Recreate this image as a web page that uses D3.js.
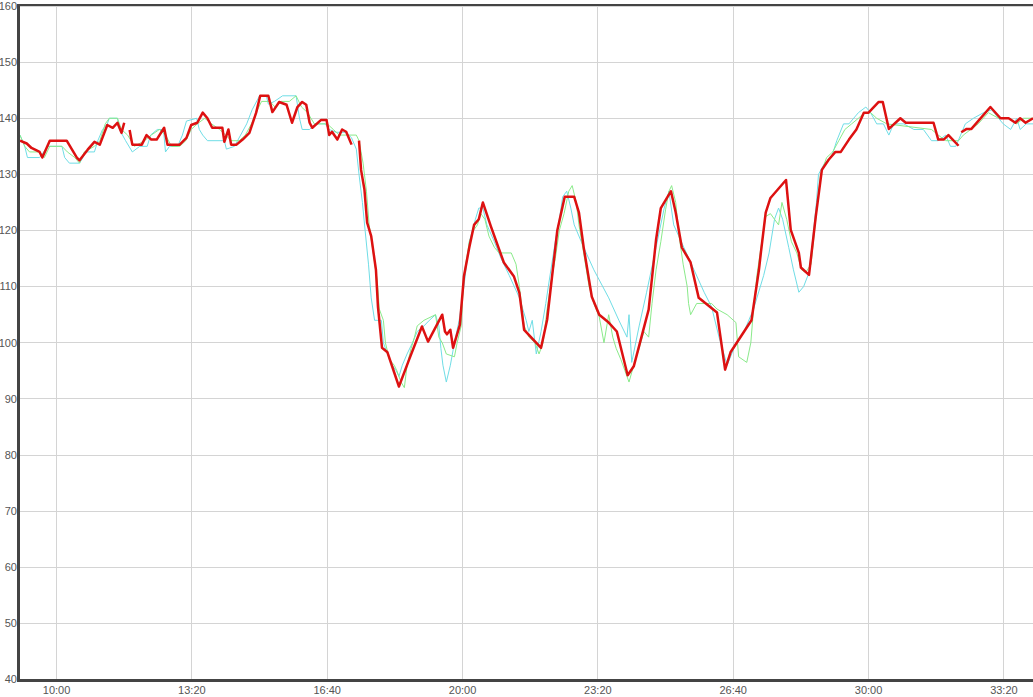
<!DOCTYPE html>
<html><head><meta charset="utf-8">
<script src="https://cdn.jsdelivr.net/npm/d3@7/dist/d3.min.js"></script>
<style>
html,body{margin:0;padding:0;background:#fff;}
svg{display:block;font-family:"Liberation Sans",Arial,sans-serif;}
</style></head><body>
<svg id="chart" width="1033" height="697"></svg>
<script>
// time in seconds, value (heart rate)
const xTicks = [600, 800, 1000, 1200, 1400, 1600, 1800, 2000];
const xTickLabels = ["10:00", "13:20", "16:40", "20:00", "23:20", "26:40", "30:00", "33:20"];
const yTicks = [40, 50, 60, 70, 80, 90, 100, 110, 120, 130, 140, 150, 160];

const cyanSeries = [
[546,137],[553,135],[557,133],[575,133],[587,135],[608,135],[612,133],[619,132],[634,132],[639,133],[643,134],[656,134],[661,136],[668,138],[675,139],[678,140],[690,140],[693,138],[702,136],[712,134],[723,135],[734,135],[739,137],[749,138],[758,138],[761,134],[767,135],[779,135],[786,137],[792,139.5],[807,140],[811,138],[816,137],[823,136],[848,136],[851,134.5],[863,135],[872,137],[881,139],[889,141.5],[900,144],[910,144],[913,142.5],[922,143],[934,144],[954,144],[959,140],[963,138],[974,138],[982,139],[997,139],[1003,138],[1013,137.5],[1028,137.5],[1036,136.5],[1043,134.5],
[1047,130],[1052,125],[1056,120],[1061,114],[1065,108],[1070,104],[1080,104],[1083,100],[1089,98],[1096,96],[1102,95],[1106,94],[1111,96],[1118,98],[1126,100],[1133,102],[1143,103],[1151,104],[1160,105],[1165,103],[1168,99],[1171,96],[1176,93],[1182,96],[1188,100],[1195,104],[1202,110],[1210,118],[1219,122],[1224,124],[1230,124],[1236,121],[1247,118],[1257,115],[1269,112],[1284,108],[1294,104],[1298,102],[1303,104],[1309,98],[1316,102],[1323,107],[1328,111],[1337,118],[1343,122],[1348,126],[1354,127],[1360,124],[1365,121],[1379,117],[1394,113],[1416,108],[1431,104],[1443,101],[1446,105],[1450,96.5],[1461,103],[1472,109],[1486,117],[1498,124],[1505,127],[1512,121],[1527,117],[1542,113],[1557,109],[1568,106.4],[1579,101],[1591,96],[1601,99],[1616,102],[1630,106],[1645,112],[1653,116],[1661,122],[1667,124],[1673,122],[1682,117],[1689,113],[1697,109],[1704,110],[1712,112.5],[1717,118],[1723,125],[1726,130],[1735,132],[1745,133],[1753,136],[1763,139],[1771,139],[1785,141],[1796,142],[1803,141],[1812,139],[1822,139],[1830,137],[1837,139],[1852,139],[1867,138],[1881,138],[1893,136],[1903,136],[1914,137],[1921,135],[1929,135],[1936,137],[1943,139],[1955,140],[1970,141],[1982,141.5],[1992,140],[1999,139],[2010,138],[2019,140],[2024,138],[2033,139],[2043,139]
];

const greenSeries = [
[546,137],[553,135],[560,134],[575,134],[582,133],[590,135],[608,135],[616,134],[627,133],[634,132],[641,134],[656,135],[664,136],[672,139],[678,140],[690,140],[696,138],[705,137],[715,135],[730,136],[740,137],[752,138],[761,137],[770,135],[782,135],[791,136],[799,138],[808,139],[819,140],[829,139],[841,138],[850,137],[858,136],[870,136],[879,137],[888,139],[895,141],[903,143],[915,143],[923,142],[932,143],[944,143],[954,144],[962,142],[971,141],[981,139],[1000,139],[1009,138],[1018,137],[1043,137],
[1047,136],[1053,132],[1058,127],[1062,121],[1068,116],[1074,111],[1077,106],[1083,104],[1086,100],[1092,97],[1099,96],[1103,95],[1109,93],[1114,92],[1118,96],[1124,99],[1129,101],[1133,103],[1143,104],[1160,105],[1165,101],[1170,100],[1176,98],[1188,97.5],[1192,100],[1198,103],[1202,112],[1210,118],[1216,120],[1222,121],[1227,123],[1233,122],[1239,119],[1247,117],[1254,116],[1272,116],[1279,114],[1284,110],[1291,103],[1298,101],[1307,100],[1313,98],[1319,100],[1325,106],[1331,111],[1337,115],[1343,120],[1350,123],[1357,127],[1362,128],[1368,125],[1372,121],[1379,116],[1387,110],[1394,107],[1402,104.6],[1409,100],[1416,105],[1422,101],[1427,99],[1434,97],[1440,95],[1446,93],[1453,96],[1461,99],[1468,102],[1475,101],[1480,107],[1486,113],[1493,118],[1500,123.7],[1505,127],[1509,128],[1515,125],[1520,119],[1526,114],[1532,110],[1534,107],[1537,105],[1546,107],[1568,107],[1576,106],[1591,105],[1604,103.6],[1608,97.5],[1620,96.5],[1626,100],[1630,106],[1635,112],[1641,117],[1648,122.5],[1655,123],[1667,121],[1672,125],[1679,122],[1686,118],[1694,116],[1701,113],[1707,112.5],[1715,114],[1722,122],[1729,130],[1738,133],[1747,134],[1756,136],[1765,138],[1775,139],[1785,140],[1794,141],[1803,141],[1812,140],[1827,139],[1893,138],[1903,137],[1914,136],[1933,136],[1940,137],[1951,138],[1962,139],[1977,141],[1992,140],[2007,140],[2019,139],[2029,140],[2043,140]
];

const redSeries = [
[546,136],[556,135.5],[563,134.7],[575,134],[579,133],[590,136],[615,136],[630,133],[634,132.5],[646,134.4],[656,135.8],[664,135.3],[675,138.8],[683,138.3],[690,139.2],[696,137.4],[700,139.2],[704,null],
[708,137.9],[712,135.3],[726,135.3],[733,137],[740,136.2],[748,136.2],[759,138.3],[764,135.3],[782,135.3],[792,136.5],[799,138.8],[808,139.2],[816,141],[823,140],[830,138.3],[845,138.3],[848,135.8],[854,138],[858,135.3],[866,135.3],[875,136.2],[885,137.4],[895,141],[901,144],[913,144],[919,141.1],[929,142.9],[940,142.4],[948,139.2],[956,142],[963,142.9],[969,142.4],[974,139.2],[978,138.3],[991,139.7],[999,139.7],[1003,137],[1007,137.6],[1015,136.2],[1022,138],[1028,137.6],[1036,135.3],[1041,null],
[1047,136],[1050,130.8],[1055,127.3],[1059,121.4],[1065,119],[1072,113],[1075,106.4],[1081,99.1],[1089,98.3],[1099,94.7],[1106,92.2],[1121,97],[1140,102.9],[1149,100.2],[1170,105],[1174,102],[1177,101.5],[1182,102.3],[1186,99.1],[1196,103.2],[1202,111.8],[1210,117],[1217,121],[1224,122],[1230,125],[1242,120.7],[1250,118],[1261,114.3],[1276,111.8],[1284,108.9],[1291,102.3],[1316,99.1],[1325,104.1],[1340,120],[1351,126],[1365,126],[1372,123.2],[1379,117],[1391,108.2],[1402,105],[1416,103.6],[1428,102],[1444,94.2],[1453,95.8],[1475,105.9],[1486,118.4],[1493,124],[1508,127],[1515,123.2],[1524,117],[1537,114.3],[1549,108],[1576,105.4],[1588,95.2],[1596,98.3],[1627,104],[1638,113],[1641,116.2],[1648,123.2],[1655,125.8],[1678,129],[1685,120.1],[1697,116],[1700,113.4],[1712,112.1],[1722,122.5],[1731,130.8],[1741,132.6],[1751,134],[1759,134],[1771,136.2],[1782,138],[1793,141],[1800,141],[1815,142.9],[1821,142.9],[1830,138.1],[1847,140],[1855,139.2],[1896,139.2],[1903,136.2],[1911,136.2],[1918,137],[1933,135.1],[1935,null],
[1937,137.5],[1945,138.1],[1952,138.1],[1980,142],[1995,140],[2007,140],[2017,139.2],[2024,140],[2032,139.2],[2043,140]
];

const svg = d3.select("#chart");
const pLeft = 20, pRight = 1033, pTop = 6, pBottom = 679.5;
const x = d3.scaleLinear().domain([546, 2043]).range([pLeft, pRight]);
const y = d3.scaleLinear().domain([40, 160]).range([pBottom, pTop]);

// grid
const grid = svg.append("g");
grid.selectAll("line.h").data(yTicks).join("line")
  .attr("x1", pLeft).attr("x2", pRight)
  .attr("y1", d => y(d)).attr("y2", d => y(d))
  .attr("stroke", "#d4d4d4").attr("stroke-width", 1).attr("shape-rendering","crispEdges");
grid.selectAll("line.v").data(xTicks).join("line")
  .attr("x1", d => x(d)).attr("x2", d => x(d))
  .attr("y1", pTop).attr("y2", pBottom)
  .attr("stroke", "#d4d4d4").attr("stroke-width", 1).attr("shape-rendering","crispEdges");

// clip
svg.append("clipPath").attr("id","clip").append("rect")
  .attr("x", pLeft).attr("y", pTop-1).attr("width", pRight-pLeft).attr("height", pBottom-pTop+1);
const plot = svg.append("g").attr("clip-path","url(#clip)");

const lineLin = d3.line().defined(d => d[1] != null).x(d => x(d[0])).y(d => y(d[1]));

plot.append("path").datum(cyanSeries).attr("d", lineLin)
  .attr("fill","none").attr("stroke","#6fdde6").attr("stroke-width",1);
plot.append("path").datum(greenSeries).attr("d", lineLin)
  .attr("fill","none").attr("stroke","#8aea8a").attr("stroke-width",1);
plot.append("path").datum(redSeries).attr("d", lineLin)
  .attr("fill","none").attr("stroke","#dd1111").attr("stroke-width",2.5)
  .attr("stroke-linejoin","round");

// axes frame
svg.append("line").attr("x1", pLeft-1.5).attr("x2", pRight).attr("y1", 5).attr("y2", 5)
  .attr("stroke","#444").attr("stroke-width",2);
svg.append("line").attr("x1", pLeft-1.5).attr("x2", pRight).attr("y1", 680.5).attr("y2", 680.5)
  .attr("stroke","#444").attr("stroke-width",3);
svg.append("line").attr("x1", pLeft-1.5).attr("x2", pLeft-1.5).attr("y1", 4).attr("y2", 682)
  .attr("stroke","#444").attr("stroke-width",3);

// y labels
svg.append("g").selectAll("text").data(yTicks).join("text")
  .attr("x", 17).attr("y", d => y(d)).attr("dy","0.35em")
  .attr("text-anchor","end").attr("font-size",11).attr("fill","#555")
  .text(d => d);

// x labels
svg.append("g").selectAll("text").data(xTicks).join("text")
  .attr("x", d => x(d)).attr("y", 690).attr("dy","0.35em")
  .attr("text-anchor","middle").attr("font-size",11).attr("fill","#555")
  .text((d,i) => xTickLabels[i]);
</script>
</body></html>
